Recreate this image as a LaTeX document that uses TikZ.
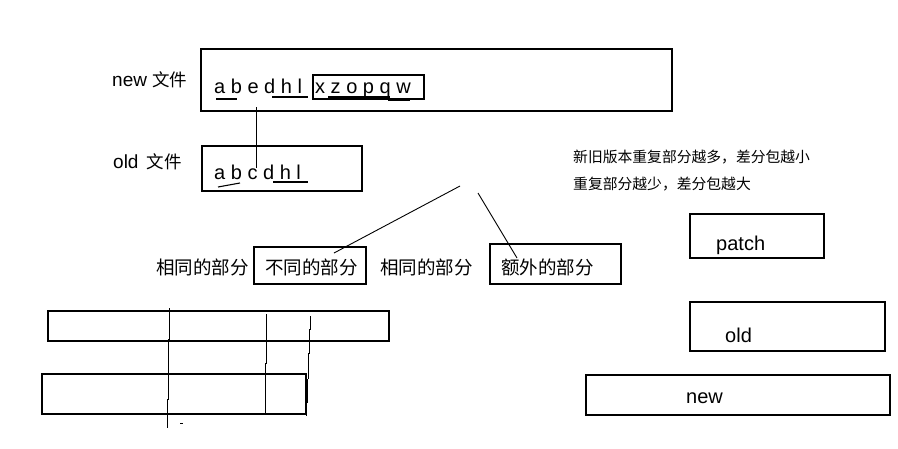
\documentclass[tikz,border=0pt]{standalone}
\usepackage{fontspec}
\setmainfont{Liberation Sans}
\newfontfamily\cjk{Noto Sans CJK SC}
\begin{document}
\begin{tikzpicture}[x=1pt,y=-1pt,
  box/.style={draw=black,line width=1.2pt},
  thin/.style={draw=black,line width=0.9pt},
  uline/.style={draw=black,line width=1.1pt},
  lbl/.style={inner sep=0pt,anchor=base west,font=\fontsize{19}{19}\selectfont},
  big/.style={lbl,font=\fontsize{20}{20}\selectfont},
  zh/.style={inner sep=0pt,anchor=west,font=\cjk\fontsize{18.5}{18.5}\selectfont},
  note/.style={inner sep=0pt,anchor=west,font=\cjk\fontsize{14.8}{14.8}\selectfont}]
\useasboundingbox (0,0) rectangle (898,448);
\fill[white] (0,0) rectangle (898,448);

% new file
\node[lbl] (newlbl) at (112,86) {new \cjk\fontsize{17.5}{17.5}\selectfont 文件};
\draw[box] (201,49) rectangle (672,111);
\node[big] (newtxt1) at (214,93) {a b e d h l};
\node[big] (newtxt2) at (315,93) {x z o p q w};
\draw[box] (313,75) rectangle (424,99);
\draw[uline] (216,99) -- (237,99);
\draw[uline] (272,97) -- (308,97);
\draw[uline] (328,97) -- (390,97);
\draw[uline] (388,100) -- (410,100);

% old file
\node[lbl] (oldlbl) at (113,168) {old \hspace{3pt}\cjk\fontsize{17.5}{17.5}\selectfont 文件};
\draw[box] (202,146) rectangle (362,191);
\node[big] (oldtxt) at (214,179) {a b c d h l};
\draw[uline] (218,187) -- (240,183);
\draw[uline] (273,182) -- (308,182);

% link e -> c
\coordinate (e) at (256,107);
\coordinate (c) at (256,168);
\draw[thin] (e) -- (c);

% parts row
\node[zh] (same1) at (156,267) {相同的部分};
\node[box,minimum width=112pt,minimum height=37pt] (diff) at (310,265.5) {};
\node[zh] (difft) at (265,267) {不同的部分};
\node[zh] (same2) at (380,267) {相同的部分};
\node[box,minimum width=131pt,minimum height=40pt] (extra) at (555.5,264) {};
\node[zh] (extrat) at (501,267) {额外的部分};
\coordinate (p1) at (460,186);
\coordinate (p2) at (478,193);
\coordinate (d1) at (334,253);
\coordinate (x1) at (517,258);
\draw[thin] (p1) -- (d1);
\draw[thin] (p2) -- (x1);

% note
\node[note] (note1) at (573,157) {新旧版本重复部分越多，差分包越小};
\node[note] (note2) at (573,184) {重复部分越少，差分包越大};

% right boxes
\node[box,minimum width=134pt,minimum height=44pt] (patchbox) at (757,236) {};
\node[big] (patcht) at (716,250) {patch};
\node[box,minimum width=195pt,minimum height=49pt] (oldbox) at (787.5,326.5) {};
\node[big] (oldt) at (725,342) {old};
\node[box,minimum width=304pt,minimum height=40pt] (newbox) at (738,395) {};
\node[big] (newt) at (686,403) {new};

% bottom-left bars
\draw[box] (48,311) rectangle (389,341);
\draw[box] (42,374) rectangle (306,414);
\draw[thin] (169,308) -- (169,339) -- (168,339) -- (168,399) -- (167,399) -- (167,428);
\draw[thin] (266,314) -- (266,363) -- (265,363) -- (265,414);
\draw[thin] (310,316) -- (310,329) -- (309,329) -- (309,353) -- (308,353) -- (308,379);
\draw[line width=1.8pt] (307,379) -- (307,403);
\draw[thin] (306,403) -- (306,416);
\draw[thin] (180,423) -- (183,423);
\end{tikzpicture}
\end{document}
